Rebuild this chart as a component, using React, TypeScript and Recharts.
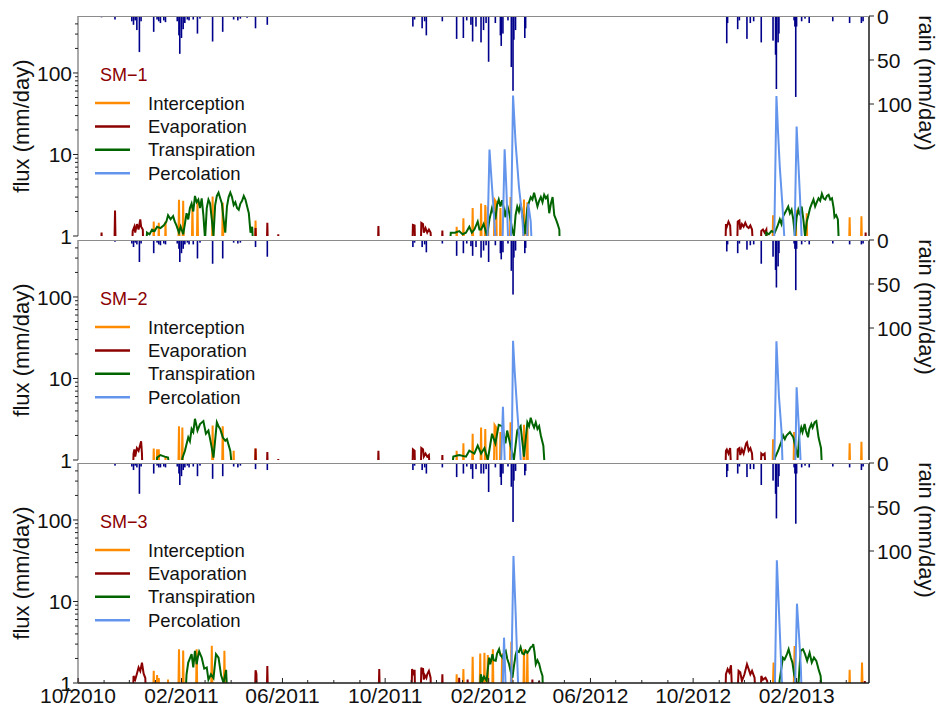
import React from 'react';
import { ComposedChart, Line, Bar, XAxis, YAxis, Legend } from 'recharts';

// x = days since 1 Oct 2010; values in mm/day
type Pt = [number, number];

const MONTH_STARTS = [0, 31, 61, 92, 123, 151, 182, 212, 243, 273, 304, 335, 365, 396, 426, 457, 488, 517, 548, 578, 609, 639, 670, 701, 731, 762, 792, 823, 854, 882, 913];
const MAJOR_DAYS = [0, 123, 243, 365, 488, 609, 731, 854];
const MAJOR_LABELS = ['10/2010', '02/2011', '06/2011', '10/2011', '02/2012', '06/2012', '10/2012', '02/2013'];
const FLUX_TICKS = [1, 2, 3, 4, 5, 6, 7, 8, 9, 10, 20, 30, 40, 50, 60, 70, 80, 90, 100, 200, 300, 400];
const RAIN_TICKS = [0, 50, 100];

const SERIES = [
  { key: 'icp', name: 'Interception', color: '#FF8C00' },
  { key: 'evp', name: 'Evaporation', color: '#8B0000' },
  { key: 'trp', name: 'Transpiration', color: '#006400' },
  { key: 'per', name: 'Percolation', color: '#6495ED' },
];

// ---------- SM-1 ----------
const RAIN_1: Pt[] = [
  [6, 1], [28, 1.5], [44, 4], [64, 6], [66, 10], [68, 5], [70, 16], [73, 41], [75, 6], [90, 18], [94, 4], [96, 6], [98, 8], [102, 5], [104, 7],
  [118, 6], [120, 22], [121, 43], [123, 25], [125, 15], [127, 8], [130, 4], [132, 5], [137, 4], [142, 20], [145, 3], [160, 29], [172, 18],
  [185, 4], [190, 5], [193, 3], [201, 2], [211, 14], [225, 10], [238, 1],
  [357, 1], [398, 12], [400, 4], [409, 14], [412, 6], [414, 22], [433, 6], [450, 26], [458, 25], [462, 5], [467, 10], [469, 29], [473, 12],
  [479, 30], [482, 16], [485, 8], [488, 52], [496, 8], [502, 22], [503, 34], [505, 20], [511, 5], [515, 58], [517, 85], [518, 27], [520, 16],
  [531, 25], [532, 14], [543, 1],
  [771, 31], [772, 8], [784, 15], [786, 5], [795, 26], [799, 8], [803, 6], [812, 30], [826, 28], [829, 44], [830, 83], [832, 30], [833, 20],
  [851, 5], [852, 12], [853, 92], [854, 12], [860, 6], [864, 3], [869, 8], [897, 6], [917, 8], [931, 8], [933, 6],
];
const ICP_1: Pt[] = [
  [89, 0], [90, 1.5], [91, 0], [95, 0], [96, 1.45], [97, 0], [103, 0], [104, 1.5], [105, 0], [119, 0], [120, 2.78], [121, 0], [124, 0], [125, 2.7], [126, 0],
  [135, 0], [136, 2.4], [137, 0], [141, 0], [142, 2.78], [143, 0], [159, 0], [160, 3.05], [161, 0], [171, 0], [172, 2.55], [173, 0], [210, 0], [211, 1.55], [212, 0],
  [449, 0], [450, 1.3], [451, 0], [457, 0], [458, 1.65], [459, 0], [468, 0], [469, 2.2], [470, 0], [478, 0], [479, 2.5], [480, 0], [483, 0], [484, 2.4], [485, 0],
  [486, 0], [487, 2.3], [488, 0], [494, 0], [495, 2.8], [497, 2.6], [498, 0], [501, 0], [502, 2.2], [503, 0], [513, 0], [514, 3.0], [515, 0],
  [529, 0], [530, 2.8], [531, 0], [533, 0], [534, 2.6], [535, 0],
  [825, 0], [826, 1.8], [827, 0], [852, 0], [853, 2.1], [854, 0], [865, 0], [866, 1.9], [867, 0], [916, 0], [917, 1.7], [918, 0], [930, 0], [931, 1.75], [932, 0],
];
const EVP_1: Pt[] = [
  [27, 0], [28, 1.1], [29, 0], [43, 0], [44, 2.05], [45, 0], [64, 0], [65, 1.15], [67, 1.3], [68, 1.1], [70, 1.4], [72, 1.2], [74, 1.6], [75, 1.3], [77, 1.2], [78, 0],
  [210, 0], [211, 1.25], [212, 0], [224, 0], [225, 1.45], [226, 0], [237, 0], [238, 1.05], [239, 0],
  [356, 0], [357, 1.33], [358, 0], [397, 0], [398, 1.37], [400, 1.35], [401, 0], [407, 0], [408, 1.45], [410, 1.4], [411, 1.1], [413, 1.25], [415, 1.1],
  [417, 1.2], [419, 1.1], [421, 0], [432, 0], [433, 1.17], [434, 0],
  [769, 0], [770, 1.4], [771, 1.3], [773, 1.5], [775, 1.35], [777, 0], [783, 0], [784, 1.5], [786, 1.55], [787, 1.2], [789, 1.4], [791, 1.3], [793, 1.45],
  [795, 1.3], [797, 1.25], [799, 1.35], [801, 1.2], [803, 0], [811, 0], [812, 1.15], [814, 1.2], [816, 1.1], [818, 1.2], [820, 0], [935, 0], [936, 1.1], [937, 0],
];
const TRP_1: Pt[] = [
  [80, 0], [82, 1.1], [85, 1.05], [88, 1.2], [91, 1.15], [94, 1.3], [98, 1.25], [102, 1.35], [105, 1.5], [107, 1.8], [110, 1.6], [113, 1.75], [115, 1.5],
  [117, 1.35], [120, 1.1], [122, 1.3], [125, 1.05], [127, 1.4], [129, 1.9], [131, 1.6], [133, 2.2], [135, 2.5], [137, 2.0], [139, 3.1], [141, 2.6], [143, 2.8],
  [145, 2.2], [147, 2.9], [149, 1.8], [151, 0.9], [153, 2.2], [155, 2.8], [157, 2.5], [159, 1.6], [161, 1.0], [163, 2.4], [165, 3.1], [167, 3.4], [169, 2.9],
  [171, 2.5], [173, 1.6], [175, 1.1], [177, 2.3], [179, 3.0], [181, 3.4], [183, 3.0], [185, 2.4], [187, 2.6], [189, 2.2], [191, 2.1], [193, 2.5], [195, 2.7],
  [197, 3.1], [199, 2.8], [201, 2.3], [203, 1.9], [205, 1.1], [207, 1.3], [209, 0],
  [441, 0], [443, 1.1], [448, 1.1], [453, 1.15], [457, 1.05], [461, 1.1], [465, 1.3], [468, 1.1], [471, 1.2], [475, 1.5], [477, 1.2], [479, 1.2], [482, 1.4],
  [484, 1.2], [486, 1.0], [489, 1.6], [492, 2.2], [494, 1.9], [496, 1.6], [498, 2.4], [500, 2.8], [502, 2.3], [504, 2.75], [506, 2.2], [508, 1.7], [510, 2.4],
  [512, 2.0], [514, 1.6], [516, 1.2], [518, 1.0], [520, 1.8], [522, 2.3], [524, 2.0], [526, 2.5], [528, 1.8], [531, 1.05], [534, 2.2], [536, 2.6], [538, 3.0],
  [540, 2.8], [542, 3.4], [544, 2.8], [546, 2.3], [548, 2.7], [550, 3.0], [552, 2.6], [554, 3.2], [556, 2.9], [558, 3.1], [560, 1.9], [562, 2.5], [564, 3.0],
  [566, 1.8], [568, 1.6], [570, 1.4], [572, 1.2], [573, 0],
  [816, 0], [818, 1.1], [821, 1.05], [824, 1.15], [828, 1.1], [831, 1.3], [834, 1.6], [836, 1.4], [838, 1.75], [841, 2.0], [844, 2.3], [846, 1.9], [848, 2.1],
  [850, 1.6], [852, 1.0], [854, 1.7], [856, 2.1], [858, 1.8], [860, 2.3], [862, 1.6], [864, 1.0], [866, 1.5], [868, 1.8], [870, 2.2], [872, 2.5], [874, 2.8],
  [876, 2.3], [878, 2.6], [880, 2.9], [882, 2.7], [884, 3.3], [886, 2.9], [888, 2.8], [890, 3.1], [892, 3.2], [894, 2.8], [896, 2.9], [898, 2.2], [899, 1.7],
  [901, 1.8], [903, 1.6], [905, 0],
];
const PER_1: Pt[] = [
  [486, 0], [489, 11.5], [492, 4], [498, 0], [504, 0], [507, 11.6], [509, 4], [512, 0], [514, 0], [517, 53], [520, 14], [524, 4], [528, 1.7], [531, 0],
  [533, 0], [535, 2.5], [538, 1.5], [540, 0],
  [827, 0], [830, 52], [832, 18], [834, 7], [837, 2.5], [841, 0], [851, 0], [854, 22], [856, 8], [858, 3], [861, 0],
];

// ---------- SM-2 ----------
const RAIN_2: Pt[] = [
  [44, 2], [64, 4], [66, 8], [68, 3], [70, 5], [73, 25], [75, 4], [90, 15], [94, 3], [96, 5], [98, 6], [102, 4], [104, 5], [118, 4], [120, 10], [121, 25],
  [123, 15], [125, 10], [127, 5], [130, 3], [132, 5], [137, 5], [142, 21], [145, 3], [160, 27], [172, 21], [185, 3], [190, 4], [193, 3], [211, 8], [225, 19], [238, 1],
  [357, 1], [398, 8], [400, 3], [409, 8], [412, 5], [414, 14], [433, 4], [450, 18], [458, 15], [462, 4], [467, 7], [469, 18], [473, 8], [479, 20], [482, 12],
  [485, 6], [488, 25], [496, 6], [502, 15], [503, 22], [505, 14], [511, 4], [515, 35], [517, 62], [518, 20], [520, 12], [531, 15], [532, 9], [543, 1],
  [771, 13], [772, 5], [784, 15], [786, 4], [795, 11], [799, 6], [803, 5], [812, 27], [826, 19], [829, 34], [830, 54], [832, 30], [833, 15], [851, 4], [852, 10],
  [853, 57], [854, 10], [860, 5], [864, 2], [869, 5], [897, 4], [917, 5], [931, 5], [933, 4],
];
const ICP_2: Pt[] = [
  [89, 0], [90, 1.38], [91, 0], [93, 0], [94, 1.35], [95, 0], [96, 1.35], [97, 0], [103, 0], [104, 1.1], [105, 0], [119, 0], [120, 2.6], [121, 0], [123, 0],
  [124, 2.5], [125, 0], [159, 0], [160, 2.65], [161, 0], [171, 0], [172, 2.6], [173, 0], [184, 0], [185, 1.3], [186, 0], [210, 0], [211, 1.38], [212, 0],
  [449, 0], [450, 1.3], [451, 0], [457, 0], [458, 1.6], [459, 0], [468, 0], [469, 2.1], [470, 0], [478, 0], [479, 2.5], [480, 0], [483, 0], [484, 2.4], [485, 0],
  [494, 0], [495, 2.7], [497, 2.5], [498, 0], [501, 0], [502, 2.2], [503, 0], [513, 0], [514, 2.9], [515, 0], [529, 0], [530, 2.7], [531, 0], [533, 0], [534, 2.5], [535, 0],
  [825, 0], [826, 1.8], [827, 0], [850, 0], [851, 2.2], [852, 0], [916, 0], [917, 1.6], [918, 0], [930, 0], [931, 1.67], [932, 0],
];
const EVP_2: Pt[] = [
  [65, 0], [66, 1.2], [67, 1.35], [68, 1.1], [70, 1.4], [72, 1.3], [74, 1.55], [75, 1.7], [76, 1.2], [77, 0], [210, 0], [211, 1.38], [212, 0], [224, 0], [225, 1.25],
  [226, 0], [237, 0], [238, 1.03], [239, 0],
  [356, 0], [357, 1.3], [358, 0], [397, 0], [398, 1.35], [400, 1.3], [401, 0], [407, 0], [408, 1.4], [410, 1.35], [411, 1.1], [413, 1.2], [415, 1.1], [417, 1.15],
  [419, 0], [432, 0], [433, 1.15], [434, 0],
  [769, 0], [770, 1.3], [771, 1.35], [773, 1.2], [775, 1.4], [777, 0], [783, 0], [784, 1.35], [786, 1.4], [787, 1.15], [789, 1.35], [791, 1.2], [794, 1.6],
  [795, 1.65], [797, 1.3], [799, 1.4], [801, 1.2], [803, 0], [811, 0], [812, 1.2], [814, 1.15], [816, 1.2], [818, 0],
];
const TRP_2: Pt[] = [
  [92, 0], [94, 1.07], [98, 1.15], [103, 1.1], [107, 1.07], [111, 0], [122, 0], [124, 1.05], [127, 1.29], [131, 1.9], [133, 1.7], [135, 2.4], [137, 2.2],
  [139, 3.2], [142, 2.3], [145, 2.76], [149, 3.0], [152, 2.1], [155, 2.3], [158, 1.6], [161, 1.07], [165, 2.9], [167, 2.6], [169, 2.4], [172, 1.9], [175, 1.72],
  [177, 1.8], [181, 1.29], [185, 0],
  [443, 0], [446, 1.1], [453, 1.15], [461, 1.1], [465, 1.3], [471, 1.2], [475, 1.5], [479, 1.2], [483, 1.4], [487, 1.0], [492, 2.1], [496, 1.6], [500, 2.7],
  [504, 2.6], [508, 1.6], [510, 2.3], [514, 1.5], [518, 1.0], [522, 2.3], [526, 2.6], [530, 1.1], [534, 2.9], [536, 2.6], [538, 3.3], [540, 2.8], [542, 2.5],
  [544, 2.9], [546, 2.4], [548, 2.6], [550, 2.0], [553, 1.5], [556, 0],
  [826, 0], [828, 1.05], [832, 1.3], [836, 1.7], [838, 2.0], [840, 1.8], [842, 2.0], [846, 2.2], [850, 1.9], [852, 1.55], [855.5, 1.07], [857, 2.0], [859.5, 2.5],
  [861, 2.2], [863.5, 2.76], [865, 2.3], [867.5, 1.9], [869, 2.4], [871.5, 2.76], [873, 2.5], [875.4, 2.9], [877.4, 3.0], [880, 1.9], [883, 1.4], [885, 0],
];
const PER_2: Pt[] = [
  [502, 0], [505, 4.5], [508, 0], [515, 0], [517, 29], [519, 12], [522, 4], [525, 1.5], [528, 0],
  [827, 0], [830, 28.6], [833, 6], [836, 2.3], [838, 0], [852, 0], [854, 7.8], [856, 3.3], [858, 1.4], [860, 0],
];

// ---------- SM-3 ----------
const RAIN_3: Pt[] = [
  [44, 3], [64, 4], [66, 8], [68, 3], [70, 5], [73, 35], [75, 4], [90, 12], [94, 3], [96, 5], [98, 5], [102, 4], [104, 5], [118, 4], [120, 12], [121, 25],
  [123, 15], [125, 8], [127, 5], [130, 3], [132, 5], [137, 4], [142, 15], [145, 3], [160, 18], [172, 15], [185, 4], [190, 5], [193, 3], [211, 7], [225, 8], [238, 1],
  [357, 1], [398, 8], [400, 3], [409, 8], [412, 5], [414, 12], [433, 5], [450, 16], [458, 12], [462, 4], [467, 7], [469, 18], [473, 7], [479, 12], [482, 12],
  [485, 7], [488, 33], [496, 5], [502, 16], [503, 25], [505, 12], [511, 4], [515, 27], [517, 67], [518, 20], [520, 9], [531, 14], [532, 9], [543, 1],
  [771, 16], [772, 9], [784, 12], [786, 4], [795, 16], [799, 7], [803, 7], [812, 25], [826, 20], [829, 35], [830, 63], [832, 27], [833, 15], [851, 5], [852, 12],
  [853, 69], [854, 12], [860, 5], [864, 3], [869, 5], [897, 4], [917, 5], [931, 8], [933, 4],
];
const ICP_3: Pt[] = [
  [89, 0], [90, 1.41], [91, 0], [93, 0], [94, 1.25], [95, 0], [96, 1.15], [97, 0], [106, 0], [107, 1.1], [108, 0], [119, 0], [120, 2.6], [121, 0], [124, 0],
  [125, 2.5], [126, 0], [140, 0], [141, 2.6], [142, 0], [158, 0], [159, 2.86], [160, 0], [173, 0], [174, 2.48], [175, 0],
  [449, 0], [450, 1.28], [451, 0], [457, 0], [458, 1.48], [459, 0], [468, 0], [469, 2.1], [470, 0], [477, 0], [478, 2.3], [479, 0], [482, 0], [483, 2.35], [484, 0],
  [486, 0], [487, 2.2], [488, 0], [492, 0], [493, 2.6], [494, 0], [503, 0], [504, 2.3], [505, 0], [514, 0], [515, 3.2], [516, 0], [529, 0], [530, 2.6], [531, 0],
  [533, 0], [534, 2.48], [535, 0],
  [825, 0], [826.6, 1.78], [828, 0], [850, 0], [851.6, 2.85], [853, 0], [916, 0], [917, 1.45], [918, 0], [930.5, 0], [931.7, 1.78], [933, 0],
];
const EVP_3: Pt[] = [
  [0, 1.15], [1, 0], [65, 0], [66, 1.22], [68, 1.1], [70, 1.3], [72, 1.55], [74, 1.4], [76, 1.78], [78, 1.3], [80, 1.15], [81, 0], [210, 0], [211, 1.43],
  [212, 1.3], [213, 0], [224, 0], [225, 1.62], [226, 0],
  [357, 0], [358, 1.48], [359, 0], [396, 0], [397, 1.48], [399, 1.3], [400, 1.45], [401, 0], [407, 0], [408, 1.55], [409, 1.4], [410, 1.52], [411, 1.1],
  [412, 1.25], [414, 1.15], [415, 1.28], [417, 1.41], [419, 1.16], [420, 0], [432, 0], [433, 1.28], [434, 0], [452, 0], [453, 1.16], [454, 0], [462, 0],
  [463, 1.1], [464, 0], [539, 0], [540, 1.1], [541, 0], [547, 0], [548, 1.06], [549, 0],
  [769, 0], [770, 1.28], [772, 1.48], [774, 1.35], [776, 1.65], [778, 0], [783, 0], [785, 1.41], [787, 1.35], [789, 1.06], [792, 1.28], [795, 1.7], [797, 1.48],
  [799, 1.28], [801, 1.41], [804, 1.16], [806, 0], [811, 0], [812, 1.22], [814, 1.1], [817, 1.16], [819, 1.06], [821, 0], [934, 0], [935, 1.06], [936, 0],
];
const TRP_3: Pt[] = [
  [127, 0], [129, 1.28], [131, 1.78], [133, 2.0], [135, 2.26], [137, 1.55], [139, 2.48], [141, 1.7], [142.5, 2.1], [144, 2.42], [147, 2.05], [150, 1.5],
  [153, 1.55], [155, 1.1], [158, 1.28], [161, 1.15], [164, 2.26], [167, 2.05], [170, 1.25], [173, 1.0], [176, 1.45], [178, 0],
  [477, 0], [478.6, 1.28], [480.6, 1.06], [482.5, 1.2], [485.6, 1.06], [488.5, 2.05], [490, 1.7], [492.5, 2.26], [494, 1.9], [496.4, 1.87], [498, 2.3],
  [500.4, 2.6], [502, 2.2], [504.4, 2.05], [506, 2.3], [508.3, 2.48], [510, 2.0], [512.3, 1.7], [514, 1.4], [516.3, 1.16], [518, 1.6], [520, 2.2], [521.4, 2.48],
  [524, 2.4], [526, 2.75], [528, 2.3], [530, 2.26], [532, 2.5], [534, 2.35], [536, 2.5], [538, 2.75], [540, 2.8], [541, 3.0], [542.5, 2.4], [544, 1.7],
  [546, 1.9], [548, 1.72], [550, 1.41], [552, 1.22], [553, 0],
  [832, 0], [833.7, 1.06], [837.7, 2.05], [839.7, 1.95], [842.5, 2.26], [844.5, 2.6], [847, 2.05], [849, 1.78], [851, 1.28], [853, 1.06], [856, 0.9],
  [858.7, 2.48], [861.5, 2.6], [864, 2.26], [866.5, 1.87], [869.4, 2.35], [872, 1.78], [874.6, 2.05], [877.4, 1.87], [880, 1.48], [882.5, 1.22], [885.3, 0],
];
const PER_3: Pt[] = [
  [504, 0], [506.3, 3.6], [509, 0], [514.3, 0], [517.5, 36], [520, 7.7], [522, 1.87], [524, 0],
  [827.8, 0], [830.5, 32], [832.5, 10.3], [834.8, 2.7], [837.7, 0], [851.6, 0], [854.4, 9.4], [857, 3.6], [859, 1.55], [860.5, 0],
];

const FONT = '"Liberation Sans", Arial, Helvetica, sans-serif';
const FLOOR = 0.5; // zero flux sits below the log axis and is clipped
const PLOT_H = 220;

function buildRows(rain: Pt[], series: Record<string, Pt[]>) {
  const map = new Map<number, any>();
  const get = (d: number) => {
    if (!map.has(d)) map.set(d, { d });
    return map.get(d);
  };
  rain.forEach(([d, v]) => { get(d).rain = v; });
  Object.entries(series).forEach(([key, pts]) => {
    pts.forEach(([d, v]) => { get(d)[key] = Math.max(v, FLOOR); });
  });
  return [...map.values()].sort((a, b) => a.d - b.d);
}

// thin rain bar with a fixed width, whatever band size recharts works out
const RainBar = (props: any) => {
  let { x, y, width, height } = props;
  if (![x, y, width, height].every(Number.isFinite) || height === 0) return null;
  if (height < 0) {
    y += height;
    height = -height;
  }
  return <rect x={x + width / 2 - 0.8} y={y} width={1.6} height={height} fill="#00008B" />;
};

const FluxTick = (props: any) => {
  const { x, y, payload } = props;
  const v = payload.value;
  const major = v === 1 || v === 10 || v === 100;
  return (
    <g>
      <line x1={x} x2={x - (major ? 5 : 3)} y1={y} y2={y} stroke="#222" />
      {major && (
        <text x={x - 6} y={y} dy="0.36em" textAnchor="end" fontSize={21} fill="#111">{v}</text>
      )}
    </g>
  );
};

const RainTick = (props: any) => {
  const { x, y, payload } = props;
  return (
    <g>
      <line x1={x} x2={x + 5} y1={y} y2={y} stroke="#222" />
      <text x={x + 8} y={y} dy="0.36em" textAnchor="start" fontSize={21} fill="#111">{payload.value}</text>
    </g>
  );
};

const DayTick = (props: any) => {
  const { x, y, payload, showLabel } = props;
  const i = MAJOR_DAYS.indexOf(payload.value);
  return (
    <g>
      <line x1={x} x2={x} y1={y} y2={y - (i >= 0 ? 5 : 3)} stroke="#222" />
      {showLabel && i >= 0 && (
        <text x={x} y={y + 5} dy="0.71em" textAnchor="middle" fontSize={21} fill="#111">{MAJOR_LABELS[i]}</text>
      )}
    </g>
  );
};

const AxisTitle = (props: any) => {
  const vb = props.viewBox || { x: 0, y: 0, width: 0, height: 0 };
  if (props.side === 'left') {
    return (
      <text transform={`translate(${vb.x + 21},${vb.y + vb.height / 2}) rotate(-90)`} textAnchor="middle"
        dominantBaseline="central" fontSize={22} fill="#111">{props.text}</text>
    );
  }
  return (
    <text transform={`translate(${vb.x + 57},${vb.y + 67}) rotate(90)`} textAnchor="middle"
      dominantBaseline="central" fontSize={22} fill="#111">{props.text}</text>
  );
};

function PanelLegend({ label }: { label: string }) {
  return (
    <svg width={200} height={130} style={{ fontFamily: FONT, display: 'block' }}>
      <text x={10} y={13.5} dominantBaseline="central" fontSize={18} fill="#8B0000">{label}</text>
      {SERIES.map((s, i) => (
        <g key={s.key}>
          <line x1={5} x2={40} y1={42 + i * 23.4} y2={42 + i * 23.4} stroke={s.color} strokeWidth={2.5} />
          <text x={58} y={42 + i * 23.4} dominantBaseline="central" fontSize={18.5} fill="#111">{s.name}</text>
        </g>
      ))}
    </svg>
  );
}

interface PanelProps {
  label: string;
  rain: Pt[];
  icp: Pt[];
  evp: Pt[];
  trp: Pt[];
  per: Pt[];
  top: number;
  marginTop: number;
  marginBottom: number;
  showX: boolean;
}

function Panel({ label, rain, icp, evp, trp, per, top, marginTop, marginBottom, showX }: PanelProps) {
  const rows = buildRows(rain, { icp, evp, trp, per });
  const xH = showX ? 30 : 0;
  const height = marginTop + PLOT_H + xH + marginBottom;
  return (
    <div style={{ position: 'absolute', left: 0, top, width: 937, height }}>
      <ComposedChart
        width={937}
        height={height}
        data={rows}
        margin={{ top: marginTop, right: 0, bottom: marginBottom, left: 0 }}
        style={{ fontFamily: FONT }}
      >
        <XAxis
          dataKey="d"
          type="number"
          domain={[0, 940]}
          ticks={MONTH_STARTS}
          interval={0}
          tickSize={0}
          tickMargin={0}
          tickLine={false}
          tick={<DayTick showLabel={showX} />}
          height={xH}
          axisLine={{ stroke: '#1a1a1a', strokeWidth: 1.5 }}
          allowDataOverflow
        />
        <YAxis
          yAxisId="flux"
          scale="log"
          domain={[1, 500]}
          allowDataOverflow
          ticks={FLUX_TICKS}
          interval={0}
          width={78}
          tickSize={0}
          tickMargin={0}
          tickLine={false}
          tick={<FluxTick />}
          axisLine={{ stroke: '#8c8c8c', strokeWidth: 1.5 }}
          label={<AxisTitle side="left" text="flux (mm/day)" />}
        />
        <YAxis
          yAxisId="rain"
          orientation="right"
          reversed
          domain={[0, 250]}
          allowDataOverflow
          ticks={RAIN_TICKS}
          interval={0}
          width={68}
          tickSize={0}
          tickMargin={0}
          tickLine={false}
          tick={<RainTick />}
          axisLine={{ stroke: '#1a1a1a', strokeWidth: 1.5 }}
          label={<AxisTitle side="right" text="rain (mm/day)" />}
        />
        <Bar
          yAxisId="rain"
          dataKey="rain"
          fill="#00008B"
          barSize={1}
          shape={(p: any) => <RainBar {...p} />}
          isAnimationActive={false}
          legendType="none"
        />
        {SERIES.map((s) => (
          <Line
            key={s.key}
            yAxisId="flux"
            dataKey={s.key}
            name={s.name}
            stroke={s.color}
            strokeWidth={2}
            dot={false}
            activeDot={false}
            type="linear"
            connectNulls
            isAnimationActive={false}
          />
        ))}
        <Legend
          layout="horizontal"
          verticalAlign="middle"
          align="center"
          content={() => <PanelLegend label={label} />}
          wrapperStyle={{ left: 90, top: marginTop + 45, width: 200, height: 130 }}
        />
      </ComposedChart>
      <div
        style={{
          position: 'absolute',
          left: 78,
          top: marginTop,
          width: 791,
          height: PLOT_H,
          borderTop: '1.5px solid #8c8c8c',
          boxSizing: 'border-box',
          pointerEvents: 'none',
        }}
      />
    </div>
  );
}

export default function App() {
  return (
    <div style={{ position: 'absolute', left: 0, top: 0, width: 937, height: 713, background: '#fff', fontFamily: FONT }}>
      <Panel label="SM−1" rain={RAIN_1} icp={ICP_1} evp={EVP_1} trp={TRP_1} per={PER_1}
        top={0} marginTop={16} marginBottom={12} showX={false} />
      <Panel label="SM−2" rain={RAIN_2} icp={ICP_2} evp={EVP_2} trp={TRP_2} per={PER_2}
        top={228} marginTop={12} marginBottom={12} showX={false} />
      <Panel label="SM−3" rain={RAIN_3} icp={ICP_3} evp={EVP_3} trp={TRP_3} per={PER_3}
        top={451} marginTop={12} marginBottom={0} showX />
    </div>
  );
}
